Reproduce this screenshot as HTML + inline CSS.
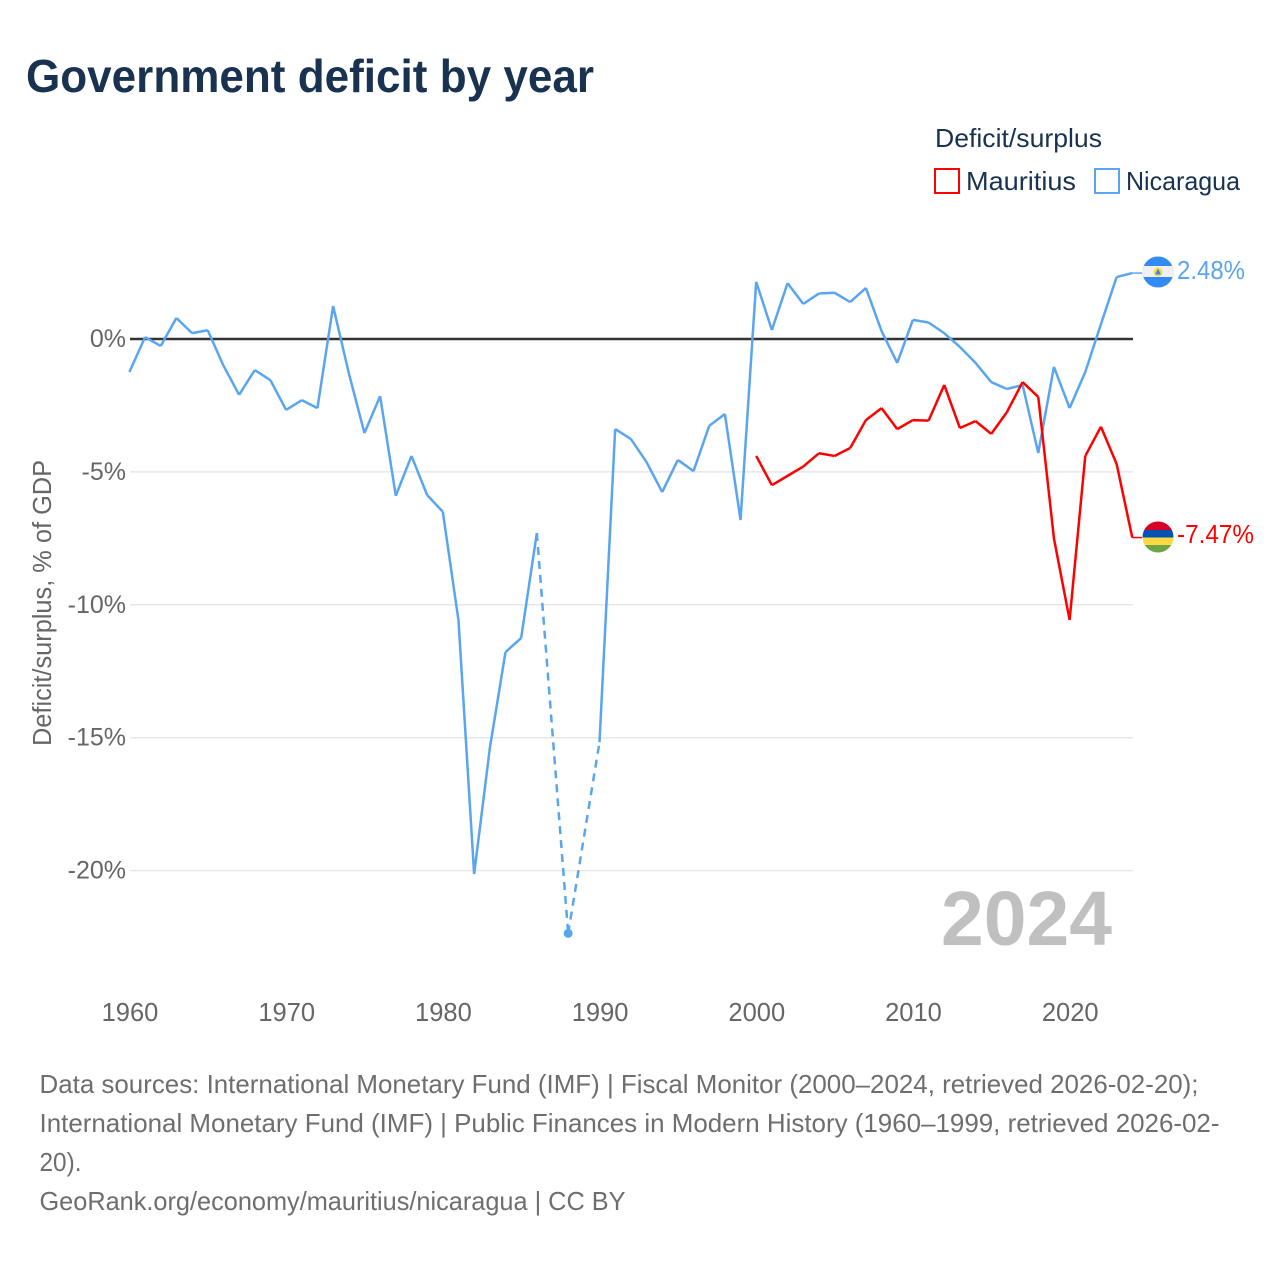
<!DOCTYPE html>
<html lang="en">
<head>
<meta charset="utf-8">
<title>Government deficit by year</title>
<style>
html,body{margin:0;padding:0;background:#fff;width:1280px;height:1280px;overflow:hidden}
svg{display:block}
text{font-family:"Liberation Sans",sans-serif}
</style>
</head>
<body>
<svg id="chart" xmlns="http://www.w3.org/2000/svg" width="1280" height="1280" viewBox="0 0 1280 1280">
  <rect x="0" y="0" width="1280" height="1280" fill="#ffffff"/>
  <text x="26" y="92" font-size="46" font-weight="700" fill="#18324f" textLength="568" lengthAdjust="spacingAndGlyphs">Government deficit by year</text>

  <text x="935" y="147" font-size="26" fill="#18324f" textLength="167" lengthAdjust="spacingAndGlyphs">Deficit/surplus</text>
  <g>
    <rect x="935" y="169" width="24" height="24" fill="#fff" stroke="#ff0000" stroke-width="2"/>
    <text x="966" y="190" font-size="26" fill="#18324f" textLength="110" lengthAdjust="spacingAndGlyphs">Mauritius</text>
  </g>
  <g>
    <rect x="1095" y="169" width="24" height="24" fill="#fff" stroke="#5aa5f0" stroke-width="2"/>
    <text x="1126" y="190" font-size="26" fill="#18324f" textLength="114" lengthAdjust="spacingAndGlyphs">Nicaragua</text>
  </g>

  <g id="grid"></g>
  <g id="yticks"></g>
  <g id="xticks"></g>
  <text transform="translate(51,603) rotate(-90)" text-anchor="middle" font-size="25.5" fill="#666666" textLength="286" lengthAdjust="spacingAndGlyphs">Deficit/surplus, % of GDP</text>

  <text x="941" y="945" font-size="77" font-weight="700" fill="#c0c0c0" textLength="171" lengthAdjust="spacingAndGlyphs">2024</text>

  <g id="series"></g>

  <defs>
    <clipPath id="clip-nic"><circle cx="1158" cy="272" r="15.5"/></clipPath>
    <clipPath id="clip-mus"><circle cx="1158" cy="537" r="15.5"/></clipPath>
  </defs>
  <g clip-path="url(#clip-nic)">
    <rect x="1142" y="256" width="32" height="32" fill="#338af3"/>
    <rect x="1142" y="266" width="32" height="11" fill="#f0f0f0"/>
    <circle cx="1158" cy="272" r="4.5" fill="#ffda44"/>
    <polygon points="1158,268.5 1161,274.5 1155,274.5" fill="#338af3"/>
  </g>
  <g clip-path="url(#clip-mus)">
    <rect x="1142" y="521" width="32" height="9" fill="#d80027"/>
    <rect x="1142" y="530" width="32" height="7.5" fill="#0052b4"/>
    <rect x="1142" y="537.5" width="32" height="7.5" fill="#ffda44"/>
    <rect x="1142" y="545" width="32" height="8" fill="#6da544"/>
  </g>
  <text id="label-nic" x="1177" y="279" font-size="25.5" fill="#5aa5f0" textLength="68" lengthAdjust="spacingAndGlyphs"></text>
  <text id="label-mus" x="1177" y="543" font-size="25.5" fill="#ff0000" textLength="77" lengthAdjust="spacingAndGlyphs"></text>

  <g font-size="26" fill="#6e6e6e">
    <text x="39.5" y="1093" textLength="1159" lengthAdjust="spacingAndGlyphs">Data sources: International Monetary Fund (IMF) | Fiscal Monitor (2000–2024, retrieved 2026-02-20);</text>
    <text x="39.5" y="1132" textLength="1180" lengthAdjust="spacingAndGlyphs">International Monetary Fund (IMF) | Public Finances in Modern History (1960–1999, retrieved 2026-02-</text>
    <text x="39.5" y="1171" textLength="42" lengthAdjust="spacingAndGlyphs">20).</text>
    <text x="39.5" y="1210" textLength="586" lengthAdjust="spacingAndGlyphs">GeoRank.org/economy/mauritius/nicaragua | CC BY</text>
  </g>
</svg>
<script>
const xTickYears = [1960, 1970, 1980, 1990, 2000, 2010, 2020];
const yTickValues = [0, -5, -10, -15, -20];
const nicaraguaStartYear = 1960;
const nicaraguaValues = [
  -1.24, 0.07, -0.26, 0.79, 0.22, 0.33, -1.0, -2.1, -1.17, -1.55,
  -2.67, -2.3, -2.6, 1.24, -1.28, -3.54, -2.15, -5.9, -4.4, -5.87,
  -6.5, -10.58, -20.13, -15.4, -11.78, -11.25, -7.3, null, -22.36, null,
  -15.17, -3.39, -3.76, -4.63, -5.76, -4.55, -4.97, -3.27, -2.82, -6.81,
  2.15, 0.34, 2.1, 1.32, 1.71, 1.74, 1.39, 1.92, 0.3, -0.9,
  0.72, 0.62, 0.22, -0.3, -0.9, -1.62, -1.88, -1.73, -4.29, -1.05,
  -2.6, -1.24, 0.56, 2.33, 2.48
];
const mauritiusStartYear = 2000;
const mauritiusValues = [
  -4.4, -5.5, -5.15, -4.8, -4.3, -4.4, -4.1, -3.05, -2.6, -3.39,
  -3.05, -3.07, -1.73, -3.35, -3.09, -3.57, -2.75, -1.62, -2.18, -7.5,
  -10.57, -4.4, -3.3, -4.7, -7.47
];

const NS = 'http://www.w3.org/2000/svg';
const BLUE = '#5aa5f0';
const RED = '#ff0000';
function xScale(year) { return 129.4 + (year - 1960) * 15.67; }
function yScale(v) { return 339 - v * 26.58; }
function make(parent, tag, attrs, text) {
  const el = document.createElementNS(NS, tag);
  for (const k in attrs) el.setAttribute(k, attrs[k]);
  if (text !== undefined) el.textContent = text;
  parent.appendChild(el);
  return el;
}

const grid = document.getElementById('grid');
const yticks = document.getElementById('yticks');
const xticks = document.getElementById('xticks');
const series = document.getElementById('series');

yTickValues.filter(v => v !== 0).forEach(v => {
  const line = make(grid, 'line', {x1: 130, x2: 1133, y1: yScale(v), y2: yScale(v), stroke: '#e7e7e7', 'stroke-width': 1.5});
  
  
});
yTickValues.forEach(v => {
  const t = make(yticks, 'text', {x: 126, y: yScale(v) + 8, 'text-anchor': 'end', 'font-size': 25, fill: '#666666'}, v + '%');
  
  
});
xTickYears.forEach(y => {
  const t = make(xticks, 'text', {x: xScale(y) + 0.6, y: 1021, 'text-anchor': 'middle', 'font-size': 25.5, fill: '#666666'}, String(y));
  
  
});

function drawSeries(name, startYear, values, color) {
  const pts = values.map((v, i) => v === null ? null : [xScale(startYear + i), yScale(v)]);
  let solid = '';
  let dashed = '';
  let prev = null;
  let prevIdx = -1;
  pts.forEach((p, i) => {
    if (!p) return;
    if (prev) {
      if (i - prevIdx === 1) solid += 'M' + prev[0] + ' ' + prev[1] + 'L' + p[0] + ' ' + p[1];
      else dashed += 'M' + prev[0] + ' ' + prev[1] + 'L' + p[0] + ' ' + p[1];
    }
    prev = p;
    prevIdx = i;
  });
  const solidLine = make(series, 'path', {d: solid, fill: 'none', stroke: color, 'stroke-width': 2.5, 'stroke-linejoin': 'round'});
  
  
  if (dashed) {
    const dashLine = make(series, 'path', {d: dashed, fill: 'none', stroke: color, 'stroke-width': 2.5, 'stroke-dasharray': '8 6'});
    
    
  }
  pts.forEach((p, i) => {
    if (!p) return;
    const before = i > 0 ? pts[i - 1] : null;
    const after = i < pts.length - 1 ? pts[i + 1] : null;
    if (!before && !after) {
      const dot = make(series, 'circle', {cx: p[0], cy: p[1], r: 4.5, fill: color});
      
      
    }
  });
  const last = pts[pts.length - 1];
  const conn = make(series, 'line', {x1: last[0], x2: 1142, y1: last[1], y2: last[1], stroke: color, 'stroke-width': 1.5});
  
  
}

const zero = make(series, 'line', {x1: 130, x2: 1133, y1: yScale(0), y2: yScale(0), stroke: '#333333', 'stroke-width': 2.5});



drawSeries('nicaragua', nicaraguaStartYear, nicaraguaValues, BLUE);
drawSeries('mauritius', mauritiusStartYear, mauritiusValues, RED);

document.getElementById('label-nic').textContent = nicaraguaValues[nicaraguaValues.length - 1].toFixed(2) + '%';
document.getElementById('label-mus').textContent = mauritiusValues[mauritiusValues.length - 1].toFixed(2) + '%';
</script>
</body>
</html>
